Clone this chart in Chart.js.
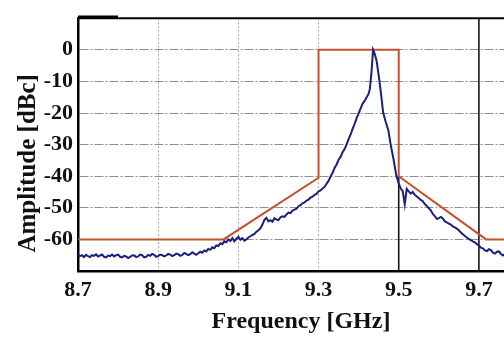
<!DOCTYPE html>
<html>
<head>
<meta charset="utf-8">
<script src="https://cdn.jsdelivr.net/npm/chart.js@4/dist/chart.umd.min.js"></script>
<style>
  html, body { margin: 0; padding: 0; background: #fff; overflow: hidden; }
  #wrap { width: 524px; height: 339px; }
</style>
</head>
<body>
<div id="wrap"><canvas id="c" width="524" height="339"></canvas></div>
<script>
// Measured spectrum of the transmitted pulse (frequency in GHz, level in dBc)
const measFreq = [
  8.700, 8.705, 8.710, 8.715, 8.720, 8.725, 8.730, 8.735, 8.740, 8.745,
  8.750, 8.755, 8.760, 8.765, 8.770, 8.775, 8.780, 8.785, 8.790, 8.795,
  8.800, 8.805, 8.810, 8.815, 8.820, 8.825, 8.830, 8.835, 8.840, 8.845,
  8.850, 8.855, 8.860, 8.865, 8.870, 8.875, 8.880, 8.885, 8.890, 8.895,
  8.900, 8.905, 8.910, 8.915, 8.920, 8.925, 8.930, 8.935, 8.940, 8.945,
  8.950, 8.955, 8.960, 8.965, 8.970, 8.975, 8.980, 8.985, 8.990, 8.995,
  9.000, 9.005, 9.010, 9.015, 9.020, 9.025, 9.030, 9.035, 9.040, 9.045,
  9.050, 9.055, 9.060, 9.065, 9.070, 9.075, 9.080, 9.085, 9.090, 9.095,
  9.100, 9.105, 9.110, 9.115, 9.120, 9.125, 9.130, 9.135, 9.140, 9.145,
  9.150, 9.155, 9.160, 9.165, 9.170, 9.175, 9.180, 9.185, 9.190, 9.195,
  9.200, 9.205, 9.210, 9.215, 9.220, 9.225, 9.230, 9.235, 9.240, 9.245,
  9.250, 9.255, 9.260, 9.265, 9.270, 9.275, 9.280, 9.285, 9.290, 9.295,
  9.300, 9.305, 9.310, 9.315, 9.320, 9.325, 9.330, 9.335, 9.340, 9.345,
  9.350, 9.355, 9.360, 9.365, 9.370, 9.375, 9.380, 9.385, 9.390, 9.395,
  9.400, 9.405, 9.410, 9.415, 9.420, 9.425, 9.428, 9.432, 9.436, 9.440,
  9.445, 9.451, 9.457, 9.461, 9.467, 9.474, 9.480, 9.487, 9.494, 9.500,
  9.505, 9.510, 9.515, 9.520, 9.525, 9.530, 9.535, 9.540, 9.545, 9.550,
  9.555, 9.560, 9.565, 9.570, 9.575, 9.580, 9.585, 9.590, 9.595, 9.600,
  9.605, 9.610, 9.615, 9.620, 9.625, 9.630, 9.635, 9.640, 9.645, 9.650,
  9.655, 9.660, 9.665, 9.670, 9.675, 9.680, 9.685, 9.690, 9.695, 9.700,
  9.705, 9.710, 9.715, 9.720, 9.725, 9.730, 9.735, 9.740, 9.745, 9.750,
  9.755, 9.760, 9.765, 9.770, 9.775, 9.780, 9.785, 9.790, 9.795, 9.800,
  9.805, 9.810, 9.815
];
const measLevel = [
  -64.7, -65.3, -65.0, -65.6, -64.9, -65.3, -65.6, -65.0, -65.2, -64.7,
  -65.4, -65.1, -64.8, -65.5, -65.7, -65.1, -65.3, -64.8, -65.4, -65.0,
  -64.8, -65.5, -65.7, -65.2, -65.4, -65.9, -65.5, -65.1, -65.0, -65.6,
  -65.4, -64.8, -65.0, -65.7, -65.5, -64.9, -65.2, -64.6, -64.9, -65.5,
  -65.3, -64.8, -65.0, -65.4, -65.1, -64.6, -64.8, -65.3, -65.0, -64.5,
  -64.7, -65.2, -64.9, -64.3, -64.6, -65.0, -64.7, -64.1, -64.5, -64.9,
  -64.4, -63.9, -64.2, -63.5, -63.8, -63.0, -63.3, -62.5, -62.8, -61.9,
  -62.1, -61.2, -61.5, -60.6, -60.9, -60.0, -60.5, -59.6, -60.6, -59.8,
  -59.2, -60.1, -59.6, -60.4, -60.0, -59.4, -59.0, -58.6, -58.3, -57.6,
  -57.1, -56.5, -55.3, -53.8, -53.2, -54.3, -53.9, -54.4, -53.3, -53.7,
  -53.9, -53.0, -52.7, -52.9, -52.1, -51.5, -51.7, -50.9, -50.6, -50.3,
  -49.5, -49.2, -48.6, -48.3, -47.7, -47.4, -46.8, -46.5, -45.9, -45.6,
  -44.8, -44.5, -43.9, -43.4, -42.4, -41.5, -40.1, -38.9, -37.4, -36.3,
  -34.8, -33.9, -32.4, -31.4, -29.9, -28.3, -26.8, -25.0, -23.4, -21.6,
  -20.1, -18.5, -17.0, -16.2, -15.0, -13.9, -12.4, -7.2, 0.0, -1.2,
  -3.6, -9.0, -15.1, -19.8, -22.6, -25.4, -30.1, -34.6, -39.8, -42.3,
  -43.9, -44.7, -48.9, -44.0, -44.8, -45.5, -45.0, -45.9, -46.4, -46.9,
  -47.5, -47.9, -48.8, -49.4, -50.1, -50.8, -51.9, -52.6, -53.5, -53.3,
  -52.9, -53.4, -54.3, -54.6, -55.0, -55.3, -55.9, -56.2, -56.6, -57.1,
  -57.8, -58.4, -58.9, -59.4, -59.9, -60.2, -60.6, -60.9, -61.5, -61.9,
  -62.6, -62.8, -63.5, -63.7, -63.1, -63.4, -64.2, -64.5, -63.9, -63.8,
  -64.6, -65.1, -64.6, -64.4, -65.0, -65.3, -64.8, -64.9, -65.4, -65.2,
  -64.8, -65.0, -65.3
];

// Spectral emission mask
const maskFreq  = [8.70, 9.063, 9.30, 9.30, 9.50, 9.50, 9.718, 9.82];
const maskLevel = [-60, -60, -40.5, 0, 0, -40, -60, -60];

// Axes
const xRange = [8.7, 9.8125];
const yRange = [-70, 10];
const xTicks = [8.7, 8.9, 9.1, 9.3, 9.5, 9.7];
const xTickLabels = ['8.7', '8.9', '9.1', '9.3', '9.5', '9.7'];
const yTicks = [0, -10, -20, -30, -40, -50, -60];
const yTickLabels = ['0', '-10', '-20', '-30', '-40', '-50', '-60'];
const solidFreqLines = [9.5, 9.7];

const serif = 'Liberation Serif, Times New Roman, serif';

// Frame top edge and the solid frequency markers
const framePlugin = {
  id: 'frame',
  beforeDatasetsDraw(chart) {
    const { ctx, chartArea: a, scales: { x, y } } = chart;
    ctx.save();
    ctx.strokeStyle = '#151515';
    ctx.lineWidth = 1.6;
    solidFreqLines.forEach(f => {
      const px = x.getPixelForValue(f);
      const lv = maskLevel.filter((v, i) => maskFreq[i] === f);
      const top = lv.length ? y.getPixelForValue(Math.min(...lv)) : a.top;
      ctx.beginPath();
      ctx.moveTo(px, a.bottom);
      ctx.lineTo(px, top);
      ctx.stroke();
    });
    ctx.strokeStyle = '#000';
    ctx.lineWidth = 2;
    ctx.beginPath();
    ctx.moveTo(a.left, a.top);
    ctx.lineTo(a.right, a.top);
    ctx.stroke();
    ctx.lineWidth = 3.5;
    ctx.beginPath();
    ctx.moveTo(a.left, a.top - 1);
    ctx.lineTo(a.left + 40, a.top - 1);
    ctx.stroke();
    ctx.restore();
  }
};

new Chart(document.getElementById('c'), {
  type: 'scatter',
  data: {
    datasets: [
      {
        label: 'Measured',
        data: measFreq.map((f, i) => ({ x: f, y: measLevel[i] })),
        showLine: true,
        borderColor: '#1b1f7e',
        borderWidth: 2,
        pointRadius: 0,
        tension: 0
      },
      {
        label: 'Mask',
        data: maskFreq.map((f, i) => ({ x: f, y: maskLevel[i] })),
        showLine: true,
        borderColor: '#c4502c',
        borderWidth: 2,
        pointRadius: 0,
        tension: 0
      }
    ]
  },
  options: {
    responsive: false,
    animation: false,
    devicePixelRatio: 1,
    layout: { padding: { top: 7, left: 0, right: 0, bottom: 0 } },
    plugins: { legend: { display: false }, tooltip: { enabled: false } },
    scales: {
      x: {
        type: 'linear',
        min: xRange[0],
        max: xRange[1],
        afterBuildTicks: s => { s.ticks = xTicks.map(v => ({ value: v })); },
        afterFit: s => { s.height = 68; },
        ticks: {
          callback: (v, i) => xTickLabels[i],
          font: { family: serif, size: 22, weight: 'bold' },
          color: '#111',
          padding: 6,
          maxRotation: 0,
          autoSkip: false
        },
        grid: {
          drawTicks: false,
          lineWidth: 1,
          color: c => (c.tick && solidFreqLines.includes(c.tick.value)) ? 'rgba(0,0,0,0)' : '#a6a6a6'
        },
        border: { display: true, color: '#000', width: 2.5, dash: [2, 2] },
        title: {
          display: true,
          text: 'Frequency [GHz]',
          font: { family: serif, size: 24, weight: 'bold' },
          color: '#111',
          padding: { top: 0, bottom: 3 }
        }
      },
      y: {
        type: 'linear',
        min: yRange[0],
        max: yRange[1],
        afterBuildTicks: s => { s.ticks = yTicks.map(v => ({ value: v })); },
        afterFit: s => { s.width = 78; },
        ticks: {
          callback: (v, i) => yTickLabels[i],
          font: { family: serif, size: 22, weight: 'bold' },
          color: '#111',
          padding: 5,
          autoSkip: false
        },
        grid: { drawTicks: false, lineWidth: 1, color: '#8e8e8e' },
        border: { display: true, color: '#000', width: 2.5, dash: [9, 2, 2, 2] },
        title: {
          display: true,
          text: 'Amplitude [dBc]      ',
          font: { family: serif, size: 25, weight: 'bold' },
          color: '#111',
          padding: { top: 14, bottom: 0 }
        }
      }
    }
  },
  plugins: [framePlugin]
});
</script>
</body>
</html>
